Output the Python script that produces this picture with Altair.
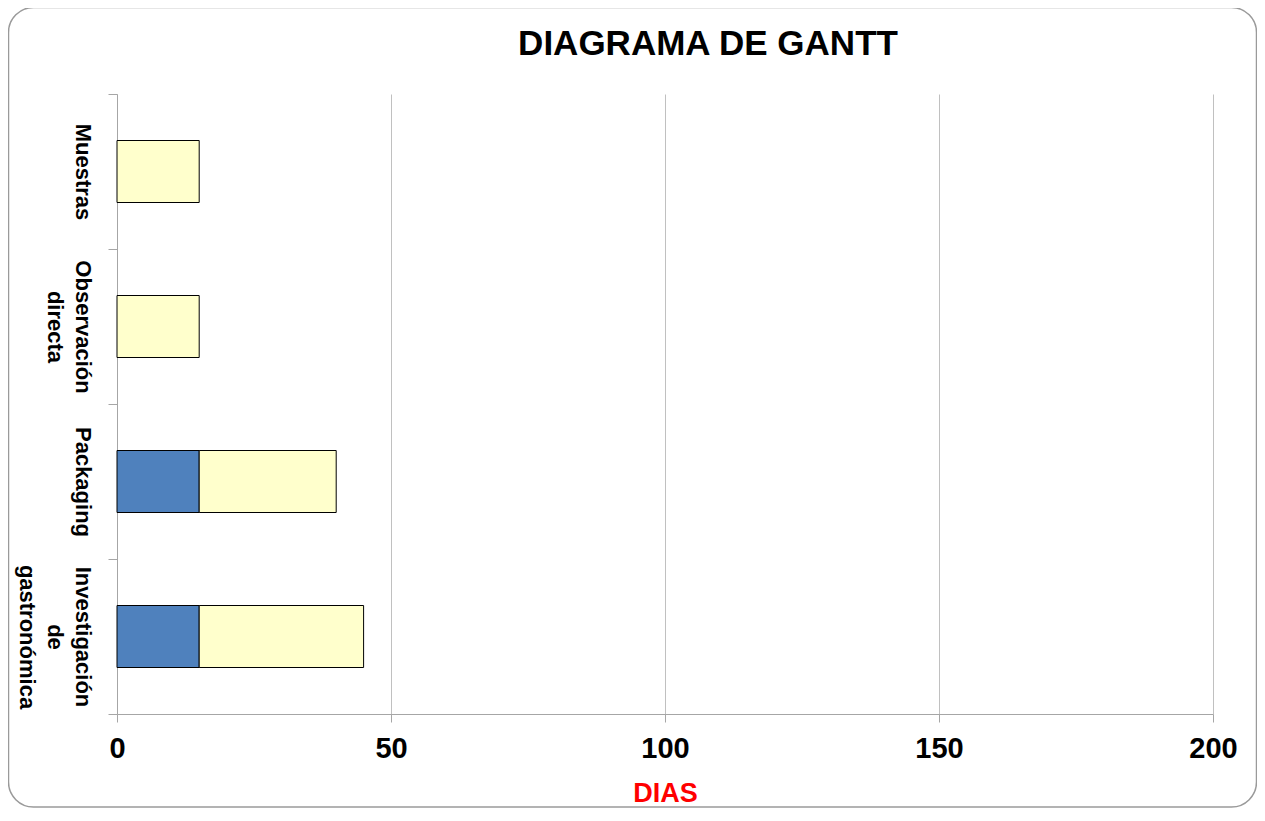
import altair as alt
import pandas as pd

tareas = ["Muestras", "Observación directa", "Packaging", "Investigación de gastronómica"]
inicio = [0, 0, 15, 15]
duracion = [15, 15, 25, 30]
eje_x = [0, 50, 100, 150, 200]

df = pd.DataFrame({"tarea": tareas, "inicio": inicio, "duracion": duracion})
df["fin"] = df["inicio"] + df["duracion"]
df["cero"] = 0

FONT = "Liberation Sans"
GRIS = "#A6A6A6"

y_enc = alt.Y(
    "tarea:N", sort=tareas, title=None,
    scale=alt.Scale(paddingInner=0, paddingOuter=0),
    axis=alt.Axis(
        labelExpr="split(datum.label, ' ')", labelAngle=90, labelAlign="center",
        labelBaseline="top", labelFontSize=22, labelFontWeight="bold",
        labelLineHeight=28, labelPadding=16, labelFont=FONT, labelColor="black",
        tickBand="extent", tickSize=9, grid=False,
        domainColor=GRIS, tickColor=GRIS,
    ),
)

xscale = alt.Scale(domain=[0, 200], nice=False)
xaxis = alt.Axis(
    values=eje_x, title="DIAS", titleColor="#FF0000", titleFontSize=27,
    titleFont=FONT, titleFontWeight="bold", titlePadding=17,
    labelFont=FONT, labelFontSize=29, labelFontWeight="bold", labelColor="black",
    labelPadding=12, labelFlush=False, tickSize=8, domainColor=GRIS, tickColor=GRIS,
    grid=True, gridColor="#C0C0C0", gridWidth=1,
)

base = alt.Chart(df)
azul = base.transform_filter("datum.inicio > 0").mark_bar(
    color="#4F81BD", stroke="black", strokeWidth=1, height=alt.RelativeBandSize(0.4)
).encode(x=alt.X("cero:Q", scale=xscale, axis=xaxis), x2="inicio:Q", y=y_enc)

amarillo = base.mark_bar(
    color="#FFFFCC", stroke="black", strokeWidth=1, height=alt.RelativeBandSize(0.4)
).encode(x=alt.X("inicio:Q", scale=xscale, axis=xaxis), x2="fin:Q", y=y_enc)

marco = alt.Chart(pd.DataFrame({"m": [0]})).mark_rect(
    fill="transparent", stroke="#9A9A9A", strokeWidth=1.5, cornerRadius=25, clip=False
).encode(
    x=alt.value(-108.5), x2=alt.value(1139.5),
    y=alt.value(-86.5), y2=alt.value(713),
)

chart = alt.layer(marco, azul, amarillo).properties(
    width=1096, height=620,
    autosize=alt.AutoSizeParams(type="none"),
    padding={"left": 109, "top": 86, "right": 44, "bottom": 94},
    title=alt.Title("DIAGRAMA DE GANTT", fontSize=35, font=FONT, fontWeight="bold",
                    anchor="middle", dx=43, offset=-83, baseline="alphabetic",
                    color="black"),
).configure_view(strokeWidth=0)

chart.save("out.html", embed_options={"renderer": "svg", "actions": False})
